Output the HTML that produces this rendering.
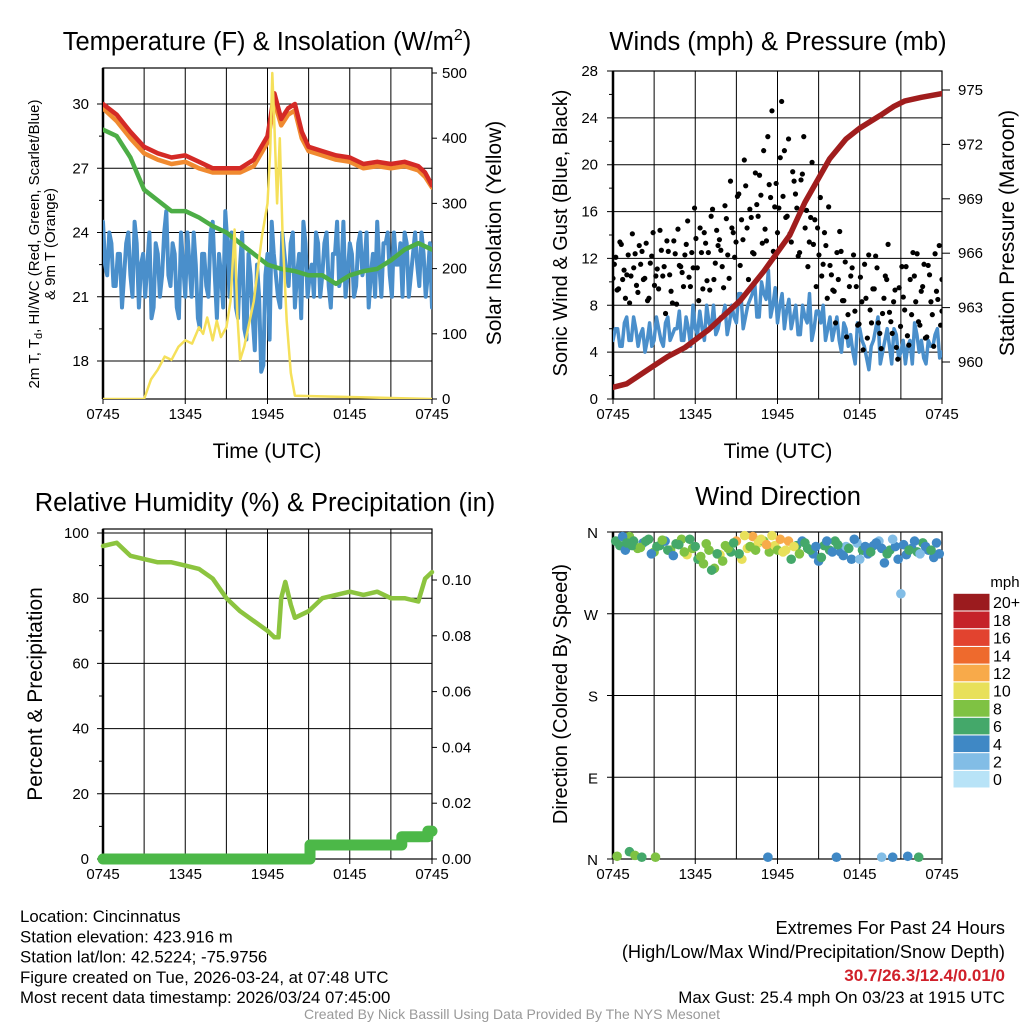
<!DOCTYPE html>
<html><head><meta charset="utf-8"><style>
body{margin:0;background:#fff;}
svg{display:block;font-family:"Liberation Sans",sans-serif;}
</style></head><body>
<svg id="c" width="1024" height="1024" viewBox="0 0 1024 1024"></svg>
<script>
// ---------- DATA ----------
const xTickLabels=["0745","1345","1945","0145","0745"];
const tempTicks=[18,21,24,27,30];
const solarTicks=[0,100,200,300,400,500];
const windTicks=[0,4,8,12,16,20,24,28];
const presTicks=[960,963,966,969,972,975];
const rhTicks=[0,20,40,60,80,100];
const precipTicks=[0,0.02,0.04,0.06,0.08,0.10];
const dirTickLabels=["N","E","S","W","N"];
const dirTicks=[0,90,180,270,360];
const redT=[0,1,2,3,4,5,6,7,8,9,10,11,12,12.5,13,13.5,14,14.5,15,16,17,18,19,20,21,22,23,23.5,24];
const redV=[30,29.5,28.7,28,27.7,27.5,27.6,27.3,27.0,27,27,27.4,28.5,30.5,29.3,29.8,30,28.7,28,27.8,27.6,27.5,27.2,27.3,27.2,27.3,27.1,26.8,26.2];
const orangeV=[29.8,29.2,28.4,27.7,27.4,27.2,27.3,27.0,26.8,26.8,26.8,27.1,28.2,30.1,29.0,29.5,29.7,28.4,27.8,27.6,27.4,27.3,27.0,27.1,27.0,27.1,26.9,26.6,26.1];
const greenT=[0,1,2,3,4,5,6,7,8,9,10,11,12,13,14,15,16,17,18,19,20,21,22,23,24];
const greenV=[28.8,28.5,27.5,26,25.5,25,25,24.7,24.3,24,23.5,23,22.5,22.3,22.2,22,22,21.6,22,22.2,22.3,22.7,23.2,23.5,23.2];
const blueV=[24.5,22,23.5,21.5,23,22,24,21,23.5,22.5,21,24,20.5,23,22,25,21.5,23,20,22.5,24,21,22.5,19.5,23,21,24.5,20,22,25,21,23.5,20,24,19,22,18.5,21,17.8,23,24.5,22,20.5,23,21.5,24,22,20,23.5,22,21,23.5,22,24,20.5,23,21.5,24.5,22,23,21.5,24,22.5,20.5,23,24.5,21,23.5,22,24,22.5,21,23.5,22,24,21.5,23,22,20.5];
const blueV2=[22.5,24,21.5,23,20.5,23.5,22,24.5,20.5,23,22.5,20,23.5,21,24,22,23.5,20.5,24,21,22.5,24,20,23,21.5,24,22,23,20.5,23.5,24,20.5,22.5,19.5,23,20,22.5,17.5,22,19,23,21,24,22,23.5,20.5,23,24.5,21,22.5,24,21,23.5,21.5,23,24.5,22,21,23.5,21,23.5,22,24,22,21,22.5,23.5,24,21,22.5,23.5,24,21,23,22.5,24,21,23.5,21.5];
const solarT=[0,3,3.5,4,4.5,5,5.5,6,6.5,7,7.3,7.6,8,8.3,8.6,9,9.3,9.6,9.8,10,10.3,10.6,11,11.3,11.6,12,12.2,12.35,12.5,12.7,12.9,13.1,13.4,13.7,14,24];
const solarV=[0,0,30,45,65,60,80,90,85,110,100,125,90,120,95,110,150,260,130,60,80,110,150,200,250,300,380,500,420,300,400,250,120,40,5,0];
const windV=[5,6,4.5,7,5,6,5.5,4,6.5,5,6,4.5,7,5.5,6,5,7,4.5,6,7.5,5,6.5,8,6,7,5.5,8,6.5,9,7,8.5,10,7,9,11,8,6.5,9,7.5,6,8,5.5,7,9,6,7.5,8,6,5,7,4,6,5.5,3,6,4.5,2.5,5,7,4,6,3,5.5,4,3,5,6.5,4,3.5,5,4.5,6,4];
const windV2=[6,4.5,6.5,5,7,4.5,6,5,4.5,7,5,6.5,5,6,7.5,5,6,8,5.5,6,8,6,5.5,7,8,6.5,7,9,6,8,9,7,10,8.5,7,9.5,8,6,8.5,7,5.5,8,6.5,5,7.5,6.5,5,7,6,5,6.5,4.5,4,6.5,5,3.5,4.5,6,3,5,4.5,6,3.5,5,4.5,3,5.5,5,3,4.5,5.5,3.5,5];
const gustV=[10.3,12.1,9.4,13.2,11,10.6,8.2,14.1,12.4,9.1,11.5,10.2,13.3,8.6,12.2,9.7,11.1,14.4,10.5,7.3,12.6,9.2,13.5,8.1,11.4,10.8,12.3,15.2,9.6,11.2,13.7,8.4,12.5,14.2,10.1,9.3,16.2,11.6,13.1,12.7,9.5,15.4,10.3,14.6,12.1,17.3,11.4,13.6,18.2,10.2,15.5,12.4,16.6,19.1,13.3,14.5,22.4,17.2,12.6,18.4,16.3,25.4,21.2,15.6,14.1,19.4,17.5,12.2,18.7,22.4,16.1,13.4,20.2,15.3,14.6,17.2,11.5,13.1,16.4,10.6,9.2,12.5,14.3,8.4,11.7,7.2,10.5,12.3,9.6,6.4,8.3,11.5,5.2,7.6,9.4,12.2,6.5,4.3,8.6,10.2,7.4,5.6,9.3,3.4,6.2,8.7,11.3,4.6,7.2,10.5,12.4,6.3,9.6,5.2,11.4,8.3,4.5,9.2,13.1,7.5];
const gustV2=[11.5,9.3,13.4,10.2,8.6,12.3,10.5,11.2,9.7,13.1,12.6,10.3,8.4,11.6,14.2,10.5,9.4,12.7,11.3,13.5,10.6,8.2,12.4,14.5,11.3,9.6,13.2,10.4,12.5,16.3,11.2,14.6,9.4,13.3,12.5,15.6,10.2,14.4,13.6,11.3,16.5,12.3,18.6,14.2,13.4,17.5,15.3,20.4,14.6,16.2,12.5,19.3,15.6,17.4,21.2,13.5,18.3,24.6,16.4,14.2,20.6,17.3,15.5,22.2,13.4,18.6,16.3,12.5,19.2,14.6,11.3,15.5,13.2,9.6,12.3,10.5,14.2,8.6,11.4,9.3,6.5,10.2,12.6,8.4,5.3,9.6,11.2,7.5,6.3,10.4,4.2,8.6,12.3,6.5,9.4,11.2,5.6,7.3,10.5,13.2,6.6,8.3,4.4,9.5,11.3,7.6,5.4,10.2,12.5,8.3,6.6,9.2,11.5,5.3,10.6,7.2,12.4,8.5,6.3,10.2];
const presT=[0,1,2,3,4,5.25,7,9.3,11,12.9,14,15.8,17,18,19.5,20.5,21.3,22.5,24];
const presV=[958.6,958.8,959.3,959.8,960.3,960.8,961.8,963.4,965,967,968.8,971.2,972.3,972.9,973.6,974.1,974.4,974.6,974.8];
const rhT=[0,1,2,3,4,5,6,7,8,9,10,11,12,12.5,12.8,13,13.3,13.7,14,15,16,17,18,19,20,21,22,23,23.5,24];
const rhV=[96,97,93,92,91,91,90,89,86,80,76,73,70,68,68,80,85,78,74,76,80,81,82,81,82,80,80,79,86,88];
const prT=[0,15.1,15.1,21.8,21.8,23.7,23.7,24];
const prV=[0,0,0.005,0.005,0.008,0.008,0.010,0.010];
const dirT=[0.2,0.5,0.9,1.2,1.5,1.8,2.2,2.6,3,3.4,3.8,4.2,4.6,5,5.4,5.8,6.2,6.6,7,7.4,7.8,8.2,8.6,9,9.4,9.8,10.2,10.6,11,11.4,11.8,12.2,12.6,13,13.4,13.8,14.2,14.6,15,15.4,15.8,16.2,16.6,17,17.4,17.8,18.2,18.6,19,19.4,19.8,20.2,20.6,21,21.4,21.8,22.2,22.6,23,23.4,23.8,0.3,1.2,1.6,2.1,3.1,11.3,16.3,19.6,20.4,21.5,22.3,
0.7,1.0,1.4,2.0,2.4,2.8,3.2,3.6,4.0,4.4,4.8,5.2,5.6,6.0,6.4,6.8,7.2,7.6,8.0,8.4,8.8,9.2,9.6,10.0,10.4,10.8,11.2,11.6,12.0,12.4,12.8,13.2,13.6,14.0,14.4,14.8,15.2,15.6,16.0,16.4,16.8,17.2,17.6,18.0,18.4,18.8,19.2,19.6,20.0,20.4,20.8,21.2,21.6,22.0,22.4,22.8,23.2,23.6];
const dirD=[350,345,340,355,350,342,348,352,338,345,350,340,347,352,335,342,330,325,340,320,335,345,338,350,330,342,355,348,350,338,345,352,340,330,345,350,342,336,328,345,340,350,338,344,330,348,340,336,345,350,326,340,344,292,335,342,338,348,340,332,336,3,8,4,2,2,2,2,2,2,3,2,
355,348,345,343,350,336,344,351,340,334,346,338,352,344,333,347,318,336,328,342,348,336,356,344,340,352,346,356,340,338,350,344,336,348,340,344,332,350,338,346,334,342,352,330,344,338,348,342,336,352,330,346,340,350,336,344,340,348];
const dirS=[5,6,4,8,5,7,3,6,8,5,4,7,6,8,9,7,6,8,7,8,9,7,6,11,10,9,12,10,8,7,10,11,9,6,5,4,6,3,4,5,6,5,3,2,4,2,5,3,4,2,3,5,4,1,3,4,6,5,4,3,4,8,6,7,5,7,4,3,2,3,4,5,
4,5,6,7,5,4,6,8,5,4,6,7,5,6,8,7,6,5,7,8,6,5,9,8,7,10,11,9,8,10,12,9,7,5,6,4,5,3,4,6,3,5,4,2,4,5,3,4,6,2,4,3,5,4,2,4,5,3];
// ---------- HELPERS ----------
const svg=document.getElementById('c');const NS='http://www.w3.org/2000/svg';
function mk(tag,attrs,parent){const e=document.createElementNS(NS,tag);for(const k in attrs)e.setAttribute(k,attrs[k]);(parent||svg).appendChild(e);return e;}
function lin(d0,d1,r0,r1){return v=>r0+(v-d0)*(r1-r0)/(d1-d0);}
function txt(x,y,s,size,anchor,extra){const e=mk('text',Object.assign({x:x,y:y,'font-size':size,'text-anchor':anchor||'middle',fill:'#000'},extra||{}));e.textContent=s;return e;}
function uniT(n,off){const a=[];for(let i=0;i<n;i++)a.push(Math.min(24,i*24/(n-1)+(off||0)));return a;}
function line(ts,vs,xs,ys,color,w,name){const pts=[];ts.forEach((t,i)=>{const v=vs[i];if(typeof v==='number'&&isFinite(v)&&isFinite(t))pts.push(xs(t).toFixed(1)+','+ys(v).toFixed(1));});const e=mk('polyline',{points:pts.join(' '),fill:'none',stroke:color,'stroke-width':w,'stroke-linejoin':'round','stroke-linecap':'round'});

return e;}
function interleave(a,b){const t=[],v=[];const ta=uniT(a.length),tb=uniT(b.length,12/(b.length-1));for(let i=0;i<a.length;i++){t.push(ta[i]);v.push(a[i]);if(i<b.length-1&&i<a.length-1){t.push(tb[i]);v.push(b[i]);}}return [t,v];}
function frame(x0,y0,x1,y1,xs,hTicks,ys,minor){
 for(let h=0;h<=24;h+=3){const l=mk('line',{x1:xs(h),x2:xs(h),y1:y0,y2:y1,stroke:'#000','stroke-width':1});
 
 }
 hTicks.forEach(v=>{const l=mk('line',{x1:x0-6,x2:x1,y1:ys(v),y2:ys(v),stroke:'#000','stroke-width':1});
 
 });
 if(minor){for(let i=0;i<hTicks.length-1;i++){const m=(hTicks[i]+hTicks[i+1])/2;mk('line',{x1:x0-4,x2:x0,y1:ys(m),y2:ys(m),stroke:'#000'});}}
 xTickLabels.forEach((s,i)=>{const t=txt(xs(i*6),y1+20,s,15);
 
 
 mk('line',{x1:xs(i*6),x2:xs(i*6),y1:y1,y2:y1+5,stroke:'#000'});});
}
function border(x0,y0,x1,y1,name){const r=mk('rect',{x:x0,y:y0,width:x1-x0,height:y1-y0,fill:'none',stroke:'#000','stroke-width':1.2});


mk('line',{x1:x0,x2:x0,y1:y0,y2:y1,stroke:'#000','stroke-width':2.5});}
// ---------- PANEL 1 ----------
(function(){
const x=lin(0,24,103,432),yL=lin(18,30,361,104),yR=lin(0,500,399,73);
frame(103,68,432,399,x,tempTicks,yL,true);
tempTicks.forEach(v=>{const t=txt(89,yL(v)+5,String(v),15,'end');

});
solarTicks.forEach(v=>{const t=txt(442,yR(v)+5,String(v),15,'start');

mk('line',{x1:432,x2:437,y1:yR(v),y2:yR(v),stroke:'#000'});});
border(103,68,432,399,'temperature-plot-area');
const cl=mk('clipPath',{id:'cp1'});mk('rect',{x:103,y:68,width:329,height:331},cl);
const g=mk('g',{'clip-path':'url(#cp1)'});
const bl=interleave(blueV,blueV2);
[['hiwc',bl[0],bl[1],'#4a8fcb',4,yL],['dewpoint-green',greenT,greenV,'#4cad46',4.5,yL],['temp-9m-orange',redT,orangeV,'#f08a30',4.5,yL],['temp-2m-red',redT,redV,'#d42a26',4.5,yL],['solar-yellow',solarT,solarV,'#f5e05a',2.5,yR]].forEach(s=>{g.appendChild(line(s[1],s[2],x,s[5],s[3],s[4],s[0]+'-line'));});
let t=txt(267,50,'Temperature (F) & Insolation (W/m',25.5);
const ts=mk('tspan',{'font-size':16,dy:-10},t);ts.textContent='2';const ts2=mk('tspan',{dy:10},t);ts2.textContent=')';
t=txt(267,458,'Time (UTC)',21);
t=txt(0,0,'2m T, T',15,'middle',{transform:'translate(39,244) rotate(-90)'});
const sub=mk('tspan',{'font-size':11,dy:3},t);sub.textContent='d';const r=mk('tspan',{dy:-3},t);r.textContent=', HI/WC (Red, Green, Scarlet/Blue)';
t=txt(0,0,'& 9m T (Orange)',15,'middle',{transform:'translate(55,244) rotate(-90)'});
t=txt(0,0,'Solar Insolation (Yellow)',21,'middle',{transform:'translate(501,233) rotate(-90)'});
})();
// ---------- PANEL 2 ----------
(function(){
const x=lin(0,24,613,942),yL=lin(0,28,399,71),yR=lin(960,975,362,90);
frame(613,71,942,399,x,windTicks,yL,true);
windTicks.forEach(v=>{const t=txt(598,yL(v)+5,String(v),15,'end');

});
presTicks.forEach(v=>{const t=txt(958,yR(v)+5,String(v),15,'start');

mk('line',{x1:942,x2:950,y1:yR(v),y2:yR(v),stroke:'#000'});});
border(613,71,942,399,'winds-plot-area');
const cl=mk('clipPath',{id:'cp2'});mk('rect',{x:613,y:60,width:329,height:339},cl);
const g=mk('g',{'clip-path':'url(#cp2)'});
const wl=interleave(windV,windV2);
g.appendChild(line(wl[0],wl[1],x,yL,'#4a8fcb',3.5,'sonic-wind-line'));
const gt=uniT(gustV.length),gt2=uniT(gustV2.length,0.1);
gustV.forEach((v,i)=>{const c=mk('circle',{cx:x(gt[i]),cy:yL(v),r:2.6,fill:'#000'},g);

});
gustV2.forEach((v,i)=>{const c=mk('circle',{cx:x(gt2[i]),cy:yL(v),r:2.6,fill:'#000'},g);

});
g.appendChild(line(presT,presV,x,yR,'#a01d1d',5.5,'pressure-line'));
let t=txt(778,50,'Winds (mph) & Pressure (mb)',25.5);
t=txt(778,458,'Time (UTC)',21);
t=txt(0,0,'Sonic Wind & Gust (Blue, Black)',20,'middle',{transform:'translate(567,233) rotate(-90)'});
t=txt(0,0,'Station Pressure (Maroon)',21,'middle',{transform:'translate(1014,233) rotate(-90)'});
})();
// ---------- PANEL 3 ----------
(function(){
const x=lin(0,24,103,432),yL=lin(0,100,859,533),yR=lin(0,0.1,859,580);
frame(103,529,432,859,x,rhTicks,yL,true);
rhTicks.forEach(v=>{const t=txt(89,yL(v)+5,String(v),15,'end');

});
precipTicks.forEach(v=>{const t=txt(442,yR(v)+5,v.toFixed(2),15,'start');

mk('line',{x1:432,x2:437,y1:yR(v),y2:yR(v),stroke:'#000'});});
border(103,529,432,859,'humidity-plot-area');
line(prT,prV,x,yR,'#4cb848',11,'precip-line');
line(rhT,rhV,x,yL,'#8cc43f',4.5,'rh-line');
let t=txt(265,511,'Relative Humidity (%) & Precipitation (in)',25.5);
t=txt(0,0,'Percent & Precipitation',21,'middle',{transform:'translate(42,694) rotate(-90)'});
})();
// ---------- PANEL 4 ----------
const spdColors=['#b8e3f7','#82bde6','#3f88c5','#44a86a','#7fc243','#e8e05a','#f8aa4a','#ee6a2d','#e2432f','#c5222a','#9b1b1e'];
const spdLabels=['0','2','4','6','8','10','12','14','16','18','20+'];
(function(){
const x=lin(0,24,613,942),y=lin(0,360,859,532);
frame(613,532,942,859,x,dirTicks,y,false);
dirTicks.forEach((v,i)=>{const t=txt(598,y(v)+6,dirTickLabels[i],15,'end');

});
border(613,532,942,859,'direction-plot-area');
dirT.forEach((tt,i)=>{const idx=Math.min(10,Math.max(0,Math.round(dirS[i]/2)));const c=mk('circle',{cx:x(tt),cy:y(dirD[i]),r:4.8,fill:spdColors[idx]});

});
let t=txt(778,505,'Wind Direction',25.5);
t=txt(0,0,'Direction (Colored By Speed)',20,'middle',{transform:'translate(567,694) rotate(-90)'});
t=txt(1005,587,'mph',15,'middle');
const h=17.7;
for(let i=0;i<11;i++){const yy=788-(i+1)*h;const r=mk('rect',{x:953,y:yy,width:37,height:h,fill:spdColors[i],stroke:'#fff','stroke-width':1});


const l=txt(993,yy+h/2+6,spdLabels[i],16,'start');

}
})();
// ---------- FOOTER ----------
["Location: Cincinnatus","Station elevation: 423.916 m","Station lat/lon: 42.5224; -75.9756","Figure created on Tue, 2026-03-24, at 07:48 UTC","Most recent data timestamp: 2026/03/24 07:45:00"].forEach((s,i)=>{const t=txt(20,922+i*20.3,s,16.8,'start');

});
let t=txt(1005,934,'Extremes For Past 24 Hours',18.2,'end');
t=txt(1005,958,'(High/Low/Max Wind/Precipitation/Snow Depth)',18.2,'end');
t=txt(1005,981,'30.7/26.3/12.4/0.01/0',17,'end',{fill:'#d0202a','font-weight':'bold'});
t=txt(1005,1003,'Max Gust: 25.4 mph On 03/23 at 1915 UTC',16.9,'end');
t=txt(512,1019,'Created By Nick Bassill Using Data Provided By The NYS Mesonet',14,'middle',{fill:'#999'});
</script>
</body></html>
